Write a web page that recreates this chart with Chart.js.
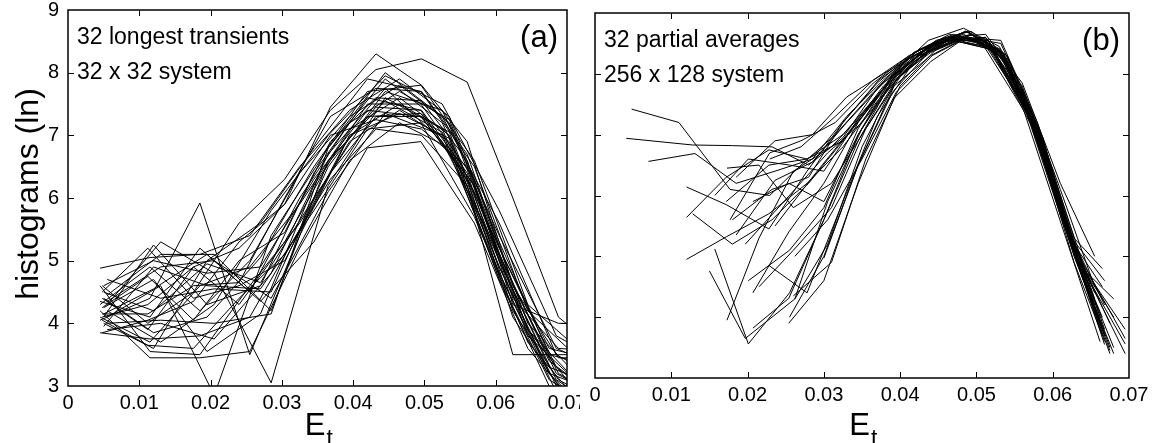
<!DOCTYPE html>
<html>
<head>
<meta charset="utf-8">
<script src="https://cdn.jsdelivr.net/npm/chart.js@4/dist/chart.umd.min.js"></script>
<style>
  body { margin: 0; background: #fff; }
  #wrap { position: relative; width: 1157px; height: 443px; overflow: hidden; }
  canvas { position: absolute; top: 0; }
</style>
</head>
<body>
<div id="wrap">
  <canvas id="chartA" width="580" height="443" style="left:0"></canvas>
  <canvas id="chartB" width="577" height="443" style="left:580px"></canvas>
</div>
<script>
// tick labels
var xTickLabels = ['0', '0.01', '0.02', '0.03', '0.04', '0.05', '0.06', '0.07'];
var yTickLabels = ['3', '4', '5', '6', '7', '8', '9'];

// (a) 32 longest transients, 32 x 32 system: bin centres and ln(histogram)
var binA1 = [0.0045, 0.0115, 0.0185, 0.0255, 0.0325, 0.0395, 0.0465, 0.0535, 0.0605, 0.0675, 0.0745];
var binA2 = [0.0050, 0.0120, 0.0195, 0.0270, 0.0345, 0.0420, 0.0495, 0.0570, 0.0645, 0.0720];
var binA3 = [0.0055, 0.0130, 0.0205, 0.0285, 0.0365, 0.0445, 0.0525, 0.0605, 0.0685, 0.0765];
var binA4 = [0.0048, 0.0112, 0.0176, 0.0240, 0.0304, 0.0368, 0.0432, 0.0496, 0.0560, 0.0624, 0.0688, 0.0752];
var binsOfA = [binA1, binA1, binA1, binA1, binA1, binA1, binA1, binA1,
               binA2, binA2, binA2, binA2, binA2, binA2, binA2, binA2,
               binA3, binA3, binA3, binA3, binA3, binA3, binA3, binA3,
               binA4, binA4, binA4, binA4, binA4, binA4, binA4, binA4];
var histA = [
  [4.10, 3.70, 4.60, 4.90, 5.90, 7.10, 7.60, 7.00, 4.90, 3.20, 2.40],
  [4.30, 4.90, 4.20, 5.00, 6.40, 7.30, 7.80, 7.20, 5.10, 3.40, 2.80],
  [4.60, 3.55, 3.50, 4.60, 5.60, 6.90, 7.40, 6.90, 4.70, 3.10, 2.60],
  [4.05, 4.40, 5.92, 3.50, 5.40, 7.00, 7.50, 7.05, 5.00, 3.30, 3.00],
  [4.88, 5.05, 5.10, 5.40, 6.50, 7.40, 7.90, 7.30, 5.30, 3.50, 3.30],
  [4.20, 3.45, 3.45, 3.55, 5.20, 6.60, 7.20, 6.80, 4.70, 3.00, 2.20],
  [4.35, 4.10, 5.20, 4.50, 6.00, 7.20, 7.70, 7.25, 5.20, 3.60, 3.40],
  [3.85, 3.75, 3.80, 4.10, 5.50, 7.00, 7.35, 6.95, 4.80, 3.20, 2.90],
  [4.10, 5.25, 4.30, 4.60, 6.40, 7.60, 7.40, 6.10, 3.90, 2.80],
  [4.50, 4.20, 4.95, 4.65, 6.00, 7.30, 7.35, 6.20, 3.80, 3.00],
  [4.00, 3.60, 5.00, 5.60, 6.80, 7.90, 7.70, 6.50, 4.20, 3.40],
  [4.25, 4.70, 3.55, 4.15, 6.20, 7.50, 7.50, 6.30, 4.00, 3.10],
  [3.95, 4.90, 4.60, 4.55, 5.80, 7.10, 7.20, 5.70, 3.70, 2.70],
  [4.40, 3.85, 4.10, 5.05, 6.50, 7.70, 7.80, 6.60, 4.30, 3.55],
  [4.15, 4.55, 5.10, 4.35, 5.30, 6.80, 6.90, 5.60, 3.60, 2.60],
  [4.60, 5.00, 4.80, 4.90, 6.30, 7.40, 7.30, 6.20, 3.90, 3.00],
  [4.30, 5.30, 4.80, 3.05, 6.20, 7.60, 7.10, 5.00, 3.10, 2.50],
  [4.10, 4.60, 2.85, 5.40, 6.80, 7.90, 7.20, 5.20, 3.30, 2.60],
  [4.45, 5.10, 5.10, 4.20, 6.60, 7.55, 7.05, 4.90, 3.00, 2.40],
  [4.00, 4.05, 4.00, 4.15, 6.80, 8.00, 7.30, 5.60, 3.50, 3.00],
  [4.70, 4.40, 4.55, 4.50, 6.50, 7.70, 7.40, 5.40, 3.60, 3.20],
  [4.20, 3.70, 4.30, 5.80, 7.00, 7.95, 7.50, 5.80, 3.80, 3.30],
  [4.35, 4.90, 5.00, 4.40, 6.10, 7.35, 7.00, 4.80, 2.90, 2.30],
  [3.90, 4.00, 3.75, 4.80, 6.70, 7.75, 6.90, 5.10, 3.20, 2.70],
  [4.10, 4.30, 4.90, 5.20, 5.90, 7.45, 8.30, 7.80, 6.90, 4.60, 3.20, 2.80],
  [4.60, 4.00, 4.50, 5.60, 6.30, 7.40, 8.05, 8.22, 7.85, 6.00, 4.10, 3.50],
  [4.05, 3.65, 3.60, 4.40, 5.10, 6.30, 7.10, 7.00, 6.20, 3.50, 3.50, 3.50],
  [4.25, 4.75, 4.05, 5.00, 5.45, 6.90, 7.60, 7.55, 6.60, 4.30, 4.00, 4.00],
  [4.50, 5.20, 4.40, 4.60, 5.00, 6.40, 7.30, 7.30, 6.30, 4.10, 3.00, 2.80],
  [4.15, 4.15, 4.60, 4.65, 6.00, 7.30, 7.75, 7.70, 6.70, 4.60, 3.45, 3.45],
  [4.40, 3.90, 4.90, 4.30, 5.30, 6.60, 7.45, 7.40, 6.40, 4.20, 3.10, 2.70],
  [3.85, 4.05, 4.35, 5.30, 5.90, 7.00, 7.25, 7.10, 6.50, 4.40, 3.60, 3.55]
];

// (b) 32 partial averages, 256 x 128 system
var binB1 = [0.0048, 0.0110, 0.0177, 0.0229, 0.0270, 0.0315, 0.0365, 0.0412, 0.0460, 0.0510, 0.0562, 0.0612, 0.0662];
var binB2 = [0.0041, 0.0128, 0.0180, 0.0232, 0.0280, 0.0325, 0.0372, 0.0418, 0.0465, 0.0515, 0.0567, 0.0618, 0.0668];
var binB3 = [0.0070, 0.0131, 0.0185, 0.0236, 0.0285, 0.0330, 0.0378, 0.0425, 0.0470, 0.0520, 0.0572, 0.0623, 0.0675];
var binB4 = [0.0120, 0.0172, 0.0228, 0.0278, 0.0325, 0.0370, 0.0418, 0.0463, 0.0512, 0.0560, 0.0610, 0.0655];
var binB5 = [0.0157, 0.0201, 0.0255, 0.0300, 0.0345, 0.0390, 0.0437, 0.0483, 0.0530, 0.0578, 0.0625, 0.0668];
var binB6 = [0.0150, 0.0197, 0.0262, 0.0305, 0.0350, 0.0395, 0.0442, 0.0488, 0.0535, 0.0582, 0.0630, 0.0695];
var binB7 = [0.0173, 0.0215, 0.0260, 0.0310, 0.0355, 0.0400, 0.0447, 0.0493, 0.0540, 0.0587, 0.0635, 0.0680];
var binB8 = [0.0207, 0.0254, 0.0300, 0.0345, 0.0392, 0.0440, 0.0486, 0.0532, 0.0580, 0.0628, 0.0665];
var binsOfB = [binB1, binB2, binB3, binB4, binB4, binB4, binB5, binB6, binB7, binB8,
               binB3, binB1, binB2, binB5, binB6, binB7, binB8, binB8, binB4, binB4,
               binB5, binB6, binB7, binB8, binB1, binB2, binB3, binB5, binB6, binB7,
               binB3, binB8];
var histB = [
  [7.42, 7.20, 6.10, 6.00, 6.50, 7.00, 7.70, 8.25, 8.60, 8.55, 7.60, 5.80, 4.00],
  [6.94, 6.83, 6.82, 6.80, 6.50, 6.95, 7.80, 8.35, 8.65, 8.50, 7.40, 5.50, 3.70],
  [6.56, 6.69, 6.20, 6.40, 6.60, 7.30, 7.90, 8.40, 8.65, 8.45, 7.25, 5.30, 3.50],
  [6.14, 5.85, 5.45, 6.40, 7.20, 7.85, 8.35, 8.60, 8.55, 7.70, 6.00, 4.30],
  [5.64, 6.30, 6.75, 6.60, 7.00, 7.65, 8.25, 8.55, 8.60, 7.80, 6.10, 4.50],
  [4.95, 5.32, 5.70, 6.20, 6.80, 7.55, 8.20, 8.55, 8.60, 7.75, 5.95, 4.20],
  [5.12, 3.56, 4.40, 5.60, 6.90, 7.90, 8.45, 8.65, 8.35, 7.05, 5.20, 3.60],
  [4.76, 3.65, 4.30, 5.90, 7.10, 8.00, 8.50, 8.70, 8.25, 6.95, 5.00, 3.56],
  [3.95, 5.30, 6.40, 6.80, 7.40, 8.10, 8.55, 8.70, 8.25, 6.80, 4.80, 3.40],
  [3.82, 4.31, 5.60, 7.00, 8.00, 8.45, 8.70, 8.35, 7.00, 5.00, 3.80],
  [null, null, 6.30, 6.90, 7.00, 7.62, 8.00, 8.35, 8.60, 8.45, 7.20, 5.20, 3.40],
  [null, null, 5.60, 6.70, 6.90, 7.20, 7.85, 8.30, 8.60, 8.50, 7.50, 5.60, 3.90],
  [null, 5.70, 5.20, 5.60, 6.20, 6.90, 7.65, 8.30, 8.60, 8.55, 7.45, 5.60, 3.80],
  [6.00, 6.60, 6.50, 6.40, 7.25, 7.95, 8.45, 8.60, 8.40, 7.10, 5.20, 3.70],
  [null, 5.20, 6.10, 6.70, 7.20, 7.90, 8.40, 8.60, 8.30, 7.00, 5.10, 3.65],
  [6.45, 6.50, 5.80, 6.20, 7.10, 7.95, 8.50, 8.65, 8.30, 6.90, 4.90, 3.50],
  [4.40, 5.40, 6.20, 7.20, 8.00, 8.45, 8.70, 8.40, 7.10, 5.10, 4.00],
  [5.90, 6.20, 5.90, 7.00, 7.90, 8.35, 8.60, 8.30, 6.95, 4.90, 3.70],
  [null, null, 4.85, 4.40, 5.90, 7.30, 8.20, 8.55, 8.55, 7.60, 5.80, 4.40],
  [null, 5.90, 6.50, 6.60, 6.90, 7.60, 8.20, 8.60, 8.65, 7.85, 6.20, 5.00],
  [null, 4.60, 5.10, 5.80, 7.10, 8.00, 8.55, 8.75, 8.45, 7.20, 5.30, 4.20],
  [null, null, 4.30, 5.20, 6.80, 7.90, 8.45, 8.70, 8.35, 7.00, 5.00, 3.80],
  [null, 4.50, 5.10, 5.80, 7.10, 8.00, 8.50, 8.60, 8.20, 6.85, 4.90, 4.00],
  [null, null, 4.97, 6.50, 7.80, 8.30, 8.60, 8.50, 7.15, 5.20, 4.50],
  [null, null, null, 6.60, 6.80, 7.30, 7.90, 8.30, 8.60, 8.45, 7.40, 5.50, 3.60],
  [null, null, 5.60, 6.10, 6.30, 7.20, 7.90, 8.30, 8.55, 8.45, 7.35, 5.45, 3.55],
  [null, null, null, 5.50, 6.30, 7.00, 7.80, 8.30, 8.55, 8.40, 7.15, 5.25, 3.45],
  [null, null, 4.00, 5.00, 6.50, 7.70, 8.35, 8.60, 8.40, 7.15, 5.30, 4.60],
  [null, null, 5.00, 5.60, 6.60, 7.70, 8.30, 8.60, 8.35, 7.05, 5.05, 3.40],
  [null, null, 4.35, 4.90, 6.60, 7.80, 8.40, 8.65, 8.30, 6.95, 4.85, 4.30],
  [null, null, 5.35, 6.25, 6.55, 7.20, 7.85, 8.30, 8.55, 8.40, 7.20, 5.30, 3.90],
  [null, 3.90, 4.60, 6.20, 7.60, 8.20, 8.60, 8.55, 7.20, 5.30, 4.80]
];

var FONT = '"Liberation Sans", Arial, Helvetica, sans-serif';

function makeSets(bins, hist) {
  return hist.map(function (row, i) {
    return {
      data: row.map(function (v, j) { return { x: bins[i][j], y: v }; }),
      borderColor: '#000',
      borderWidth: 1,
      pointRadius: 0,
      tension: 0,
      fill: false,
      spanGaps: false
    };
  });
}

// box, inward ticks and the text that sits on the chart
var decor = {
  id: 'decor',
  afterDraw: function (chart, args, o) {
    var ctx = chart.ctx, a = chart.chartArea;
    var x = chart.scales.x, y = chart.scales.y;
    ctx.save();
    ctx.strokeStyle = '#000';
    ctx.lineWidth = 1;
    ctx.beginPath();
    x.ticks.forEach(function (t) {
      var px = Math.round(x.getPixelForValue(t.value)) + 0.5;
      if (px < a.left + 2 || px > a.right - 2) return;
      ctx.moveTo(px, a.bottom); ctx.lineTo(px, a.bottom - 6);
      ctx.moveTo(px, a.top); ctx.lineTo(px, a.top + 6);
    });
    y.ticks.forEach(function (t) {
      var py = Math.round(y.getPixelForValue(t.value)) + 0.5;
      if (py < a.top + 2 || py > a.bottom - 2) return;
      ctx.moveTo(a.left, py); ctx.lineTo(a.left + 6, py);
      ctx.moveTo(a.right, py); ctx.lineTo(a.right - 6, py);
    });
    ctx.stroke();
    ctx.lineWidth = 1.5;
    ctx.strokeRect(a.left, a.top, a.right - a.left, a.bottom - a.top);

    ctx.fillStyle = '#000';
    ctx.textBaseline = 'middle';
    ctx.textAlign = 'left';
    ctx.font = '23px ' + FONT;
    ctx.fillText(o.line1, a.left + 9, a.top + 28);
    ctx.fillText(o.line2, a.left + 9, a.top + 63);
    ctx.textAlign = 'right';
    ctx.font = '31px ' + FONT;
    ctx.fillText(o.tag, a.right - 9, a.top + 28);

    // x title E with subscript t
    var cx = (a.left + a.right) / 2;
    ctx.textAlign = 'right';
    ctx.textBaseline = 'alphabetic';
    ctx.font = '31px ' + FONT;
    ctx.fillText('E', cx + 8, 435);
    ctx.textAlign = 'left';
    ctx.font = '23px ' + FONT;
    ctx.fillText('t', cx + 9, 446);

    if (o.yTitle) {
      ctx.translate(38, (a.top + a.bottom) / 2 - 4);
      ctx.rotate(-Math.PI / 2);
      ctx.textAlign = 'center';
      ctx.font = '32px ' + FONT;
      ctx.fillText(o.yTitle, 0, 0);
    }
    ctx.restore();
  }
};

function options(area, showY, notes) {
  return {
    responsive: false,
    animation: false,
    events: [],
    layout: { padding: { left: 0, top: area.top, right: area.right, bottom: 0 } },
    plugins: { legend: { display: false }, tooltip: { enabled: false }, decor: notes },
    scales: {
      x: {
        type: 'linear', min: 0, max: 0.07,
        grid: { display: false, drawTicks: false },
        border: { display: false },
        ticks: {
          stepSize: 0.01, autoSkip: false, maxRotation: 0, padding: area.xPad,
          color: '#000', font: { family: FONT, size: 20 },
          callback: function (v, i) { return xTickLabels[i]; }
        },
        afterFit: function (s) { s.height = area.xh; s.paddingLeft = 0; s.paddingRight = 0; }
      },
      y: {
        type: 'linear', min: 3, max: 9,
        grid: { display: false, drawTicks: false },
        border: { display: false },
        ticks: {
          display: showY, stepSize: 1, padding: 9,
          color: '#000', font: { family: FONT, size: 20 },
          callback: function (v, i) { return yTickLabels[i]; }
        },
        afterFit: function (s) { s.width = area.yw; s.paddingTop = 0; s.paddingBottom = 0; }
      }
    }
  };
}

new Chart(document.getElementById('chartA'), {
  type: 'line',
  data: { datasets: makeSets(binsOfA, histA) },
  options: options({ top: 10, right: 13, xh: 57, yw: 68, xPad: 5 }, true,
    { line1: '32 longest transients', line2: '32 x 32 system', tag: '(a)', yTitle: 'histograms (ln)' }),
  plugins: [decor]
});

new Chart(document.getElementById('chartB'), {
  type: 'line',
  data: { datasets: makeSets(binsOfB, histB) },
  options: options({ top: 13, right: 28, xh: 65, yw: 15, xPad: 5 }, false,
    { line1: '32 partial averages', line2: '256 x 128 system', tag: '(b)', yTitle: '' }),
  plugins: [decor]
});
</script>
</body>
</html>
